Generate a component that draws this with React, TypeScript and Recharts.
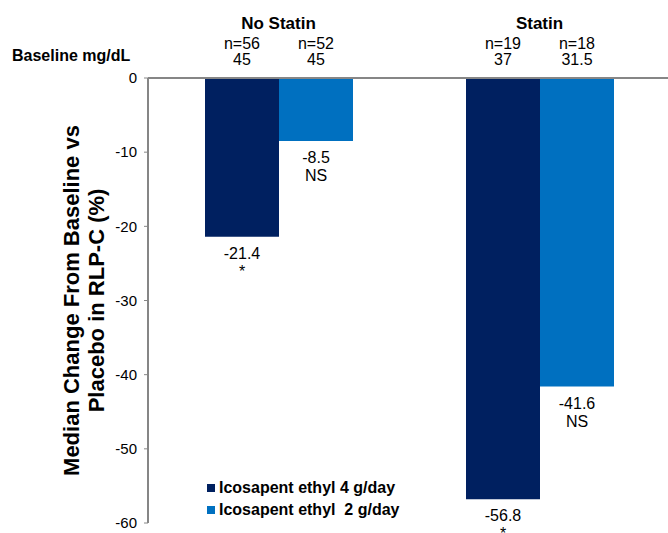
import React from 'react';
import { BarChart, Bar, XAxis, YAxis, LabelList, ReferenceLine } from 'recharts';

const groups = ['No Statin', 'Statin'];
const dose4Values = [-21.4, -56.8];
const dose2Values = [-8.5, -41.6];
const dose4N = ['n=56', 'n=19'];
const dose2N = ['n=52', 'n=18'];
const dose4Baseline = ['45', '37'];
const dose2Baseline = ['45', '31.5'];
const dose4Sig = ['*', '*'];
const dose2Sig = ['NS', 'NS'];
const yTicks = [0, -10, -20, -30, -40, -50, -60];
const seriesNames = ['Icosapent ethyl 4 g/day', 'Icosapent ethyl  2 g/day'];
const seriesColors = ['#002060', '#0070C0'];
const yTitleLines = ['Median Change From Baseline vs', 'Placebo in RLP-C (%)'];
const baselineTitle = 'Baseline mg/dL';

const FONT = '"Liberation Sans", Arial, Helvetica, sans-serif';
const AXIS = '#868686';

const data = groups.map((g, i) => ({ group: g, d4: dose4Values[i], d2: dose2Values[i] }));

const makeBarLabel = (nArr: string[], baseArr: string[], sigArr: string[]) => (props: any) => {
  const { x, y, width, height, value, index } = props;
  const top = Math.min(Number(y), Number(y) + Number(height));
  const bottom = Math.max(Number(y), Number(y) + Number(height));
  const cx = Number(x) + Number(width) / 2;
  const st = { fontFamily: FONT, fontSize: 16, fill: '#000' } as any;
  return (
    <g>
      <text x={cx} y={top - 29} textAnchor="middle" style={st}>{nArr[index]}</text>
      <text x={cx} y={top - 13} textAnchor="middle" style={st}>{baseArr[index]}</text>
      <text x={cx} y={bottom + 22} textAnchor="middle" style={st}>{String(value)}</text>
      <text x={cx} y={bottom + 40} textAnchor="middle" style={st}>{sigArr[index]}</text>
    </g>
  );
};

const GroupTick = (props: any) => {
  const { x, y, payload } = props;
  return (
    <text x={x} y={y - 49} textAnchor="middle" style={{ fontFamily: FONT, fontSize: 17, fontWeight: 700, fill: '#000' }}>
      {payload.value}
    </text>
  );
};

const YTitle = (props: any) => {
  const vb = props.viewBox || {};
  const cy = vb.y != null && vb.height != null ? vb.y + vb.height / 2 : 300.5;
  const st = { fontFamily: FONT, fontSize: 22, fontWeight: 700, fill: '#000' } as any;
  return (
    <g>
      <text transform="rotate(-90)" x={-cy} y={79} textAnchor="middle" style={st}>{yTitleLines[0]}</text>
      <text transform="rotate(-90)" x={-cy} y={104} textAnchor="middle" style={st}>{yTitleLines[1]}</text>
      <text x={12} y={61} style={{ fontFamily: FONT, fontSize: 16, fontWeight: 700, fill: '#000' }}>{baselineTitle}</text>
    </g>
  );
};

export default function App() {
  return (
    <div style={{ position: 'absolute', left: 0, top: 0, width: 668, height: 533, overflow: 'hidden', background: '#fff', fontFamily: FONT }}>
      <BarChart width={672} height={533} data={data} margin={{ top: 0, right: 2, left: 0, bottom: 10 }} barSize={74} barGap={0}>
        <XAxis
          dataKey="group"
          orientation="top"
          height={78}
          axisLine={{ stroke: AXIS, strokeWidth: 2 }}
          tickLine={false}
          tickSize={0}
          tickMargin={0}
          tick={<GroupTick />}
          interval={0}
        />
        <XAxis xAxisId="edge" type="number" domain={[0, 2]} allowDataOverflow hide />
        <YAxis
          type="number"
          domain={[-60, 0]}
          ticks={yTicks}
          interval={0}
          width={148}
          axisLine={{ stroke: AXIS, strokeWidth: 2 }}
          tickLine={{ stroke: AXIS, strokeWidth: 1 }}
          tickSize={4}
          tickMargin={7}
          tick={{ fill: '#000', fontSize: 15, fontFamily: FONT }}
          label={{ content: (p: any) => <YTitle {...p} /> }}
        />
        <ReferenceLine
          xAxisId="edge"
          segment={[{ x: 1, y: 0 }, { x: 1, y: -0.7 }]}
          stroke={AXIS}
          strokeWidth={1}
        />
        <Bar dataKey="d4" name={seriesNames[0]} fill={seriesColors[0]} isAnimationActive={false}>
          <LabelList dataKey="d4" content={makeBarLabel(dose4N, dose4Baseline, dose4Sig)} />
        </Bar>
        <Bar dataKey="d2" name={seriesNames[1]} fill={seriesColors[1]} isAnimationActive={false}>
          <LabelList dataKey="d2" content={makeBarLabel(dose2N, dose2Baseline, dose2Sig)} />
        </Bar>
      </BarChart>
      <div style={{ position: 'absolute', left: 207, top: 477 }}>
        {seriesNames.map((n, i) => (
          <div key={n} style={{ display: 'flex', alignItems: 'center', height: 22 }}>
            <div style={{ width: 8, height: 8, background: seriesColors[i], marginRight: 4 }} />
            <span style={{ fontFamily: FONT, fontSize: 16, fontWeight: 700, whiteSpace: 'pre', color: '#000', lineHeight: '22px' }}>{n}</span>
          </div>
        ))}
      </div>
    </div>
  );
}
